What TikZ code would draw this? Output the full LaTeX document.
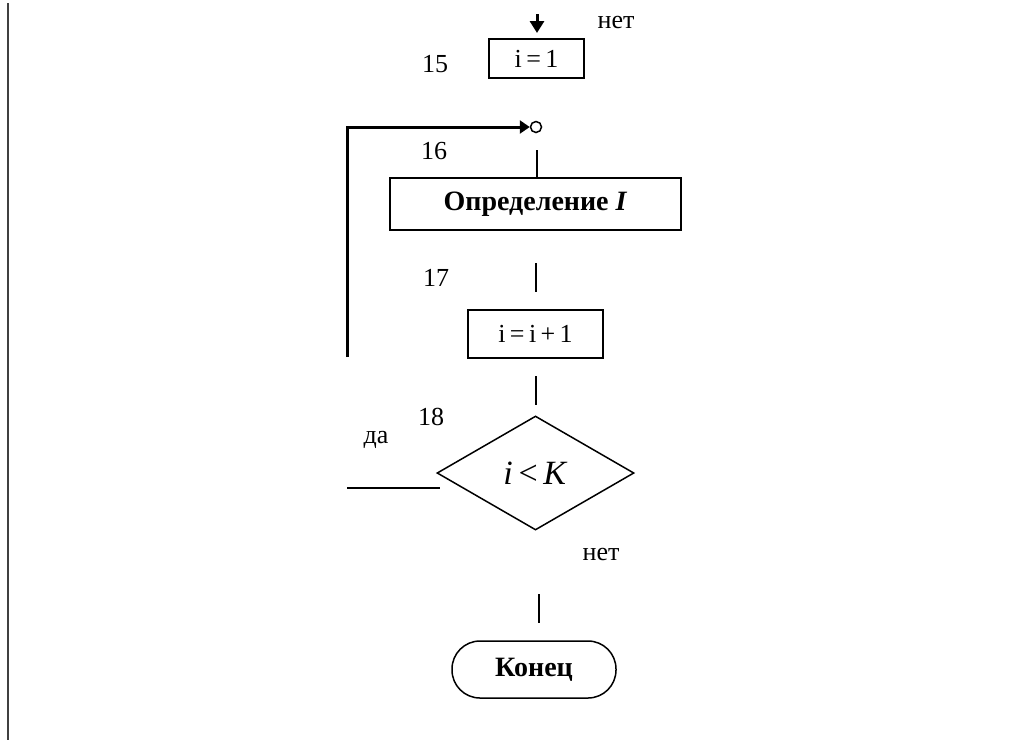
\documentclass[tikz,border=0pt]{standalone}
\usepackage{fontspec}
\setmainfont{Liberation Serif}
\usetikzlibrary{shapes.geometric,arrows.meta}
\begin{document}
\begin{tikzpicture}[x=0.5pt,y=-0.5pt,
  ln/.style={line width=0.75pt},
  boxn/.style={draw,line width=0.75pt,inner sep=0pt,font=\fontsize{13}{15}\selectfont},
  lbl/.style={inner sep=0pt,font=\fontsize{13}{15}\selectfont}]
\useasboundingbox (0,0) rectangle (1010,740);
\draw[line width=1pt,black!75] (8,3) -- (8,740);
% top arrow
\coordinate (a0) at (537,14);
\coordinate (a1) at (537,33);
\draw[line width=1.5pt,-{Triangle[length=6pt,width=7pt]}] (a0) -- (a1);
\node[lbl] (net1) at (616,22) {нет};
\node[lbl] (n15) at (435,64) {15};
\node[boxn,minimum width=47.5pt,minimum height=19.5pt] (b15) at (536.5,58.5) {i\,=\,1};
% loop back arrow
\coordinate (c0) at (347,357);
\coordinate (c1) at (347,127);
\node[draw,circle,line width=0.75pt,minimum size=5.5pt,inner sep=0pt] (jn) at (536,127) {};
\draw[line width=1.5pt,-{Triangle[length=5pt,width=6.5pt]}] (c0) -- (c1) -- (jn.west);
\node[lbl] (n16) at (434,151) {16};
\coordinate (l16a) at (537,150);
\node[boxn,minimum width=145.5pt,minimum height=26pt,font=\fontsize{14}{16}\selectfont\bfseries] (b16) at (535.5,204) {Определение \textit{I}};
\draw[ln] (l16a) -- (l16a |- b16.north);
\node[lbl] (n17) at (436,278) {17};
\coordinate (l17a) at (536,263);
\coordinate (l17b) at (536,292);
\draw[ln] (l17a) -- (l17b);
\node[boxn,minimum width=67.5pt,minimum height=24pt] (b17) at (535.5,334) {i\,=\,i\,+\,1};
\coordinate (l18a) at (536,376);
\coordinate (l18b) at (536,405);
\draw[ln] (l18a) -- (l18b);
\node[lbl] (n18) at (431,417) {18};
\node[boxn,shape=diamond,minimum width=98.5pt,minimum height=57pt,font=\fontsize{17}{19}\selectfont] (d18) at (535.5,473) {\textit{i}\,<\,\textit{K}};
\node[lbl] (da) at (376,440) {да};
\coordinate (y0) at (347,488);
\coordinate (y1) at (440,488);
\draw[ln] (y0) -- (y1);
\node[lbl] (net2) at (601,554) {нет};
\coordinate (e0) at (539,594);
\coordinate (e1) at (539,623);
\draw[ln] (e0) -- (e1);
\node[boxn,minimum width=82pt,minimum height=28.5pt,rounded corners=14pt,font=\fontsize{14}{16}\selectfont\bfseries] (end) at (534,669.5) {Конец};
\end{tikzpicture}
\end{document}
